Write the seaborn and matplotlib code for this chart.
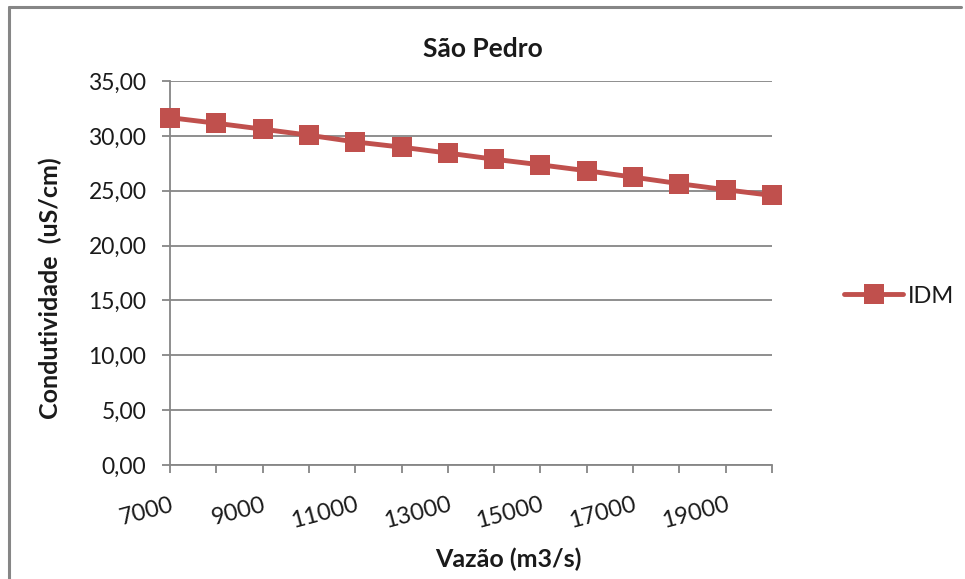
import matplotlib
matplotlib.use("Agg")
import matplotlib.pyplot as plt
from matplotlib.lines import Line2D
import seaborn as sns
import pandas as pd

# Flow (m3/s) and conductivity (uS/cm) for São Pedro, IDM series
vazao = [7000, 8000, 9000, 10000, 11000, 12000, 13000,
         14000, 15000, 16000, 17000, 18000, 19000, 20000]
condutividade = [31.66, 31.15, 30.61, 30.06, 29.45, 28.97, 28.43,
                 27.87, 27.36, 26.82, 26.24, 25.64, 25.09, 24.57]
serie = "IDM"
titulo = "São Pedro"
rotulo_x = "Vazão (m3/s)"
rotulo_y = "Condutividade  (uS/cm)"
y_ticks = [0, 5, 10, 15, 20, 25, 30, 35]

df = pd.DataFrame({"vazao": vazao, "cond": condutividade, "serie": serie})

sns.set_theme(style="white")
plt.rcParams["font.family"] = ["Lato", "DejaVu Sans"]

RED = "#C0504D"
GRAY = "#868686"
TEXT = "#1a1a1a"

W, H = 965, 579
fig = plt.figure(figsize=(W / 100, H / 100), dpi=100)
ax = fig.add_axes([170 / W, 1 - 465 / H, (772 - 170) / W, (465 - 81) / H])

sns.lineplot(data=df, x="vazao", y="cond", hue="serie", palette=[RED],
             marker="s", markersize=14, markeredgewidth=0, linewidth=3.5,
             clip_on=False, ax=ax, legend=True, zorder=5)

ax.set_xlim(vazao[0], vazao[-1])
ax.set_ylim(y_ticks[0], y_ticks[-1])
ax.set_yticks(y_ticks)
ax.set_yticklabels([f"{v:.2f}".replace(".", ",") for v in y_ticks],
                   fontsize=16.5, color=TEXT)
ax.set_xticks(vazao)
ax.set_xticklabels([str(v) if i % 2 == 0 else "" for i, v in enumerate(vazao)],
                   fontsize=17, rotation=15, ha="right", rotation_mode="anchor",
                   color=TEXT)

ax.grid(axis="y", color=GRAY, linewidth=1.3)
ax.set_axisbelow(True)
for side in ["top", "right"]:
    ax.spines[side].set_visible(False)
for side in ["left", "bottom"]:
    ax.spines[side].set_color(GRAY)
    ax.spines[side].set_linewidth(1.3)
ax.tick_params(axis="both", which="both", direction="out", color=GRAY,
               length=6, width=1.3, left=True, bottom=True)
ax.tick_params(axis="x", pad=15)
ax.tick_params(axis="y", pad=11)

fig.text(483 / W, 1 - 57 / H, titulo, fontsize=19, fontweight="bold",
         ha="center", va="baseline", color=TEXT)
ax.set_xlabel(rotulo_x, fontsize=18, fontweight="bold", color=TEXT)
ax.xaxis.set_label_coords((508 - 170) / 602, (465 - 548) / 384)
ax.set_ylabel(rotulo_y, fontsize=18, fontweight="bold", color=TEXT)
ax.yaxis.set_label_coords((62 - 170) / 602, (465 - 288) / 384)

leg = ax.legend(loc="center left", bbox_to_anchor=(1.085, 0.44), frameon=False,
                fontsize=17, handlelength=2.5, handletextpad=0.2)
for h in leg.legend_handles:
    h.set_markersize(14)
for t in leg.get_texts():
    t.set_color(TEXT)

# chart frame
fig.add_artist(Line2D([9 / W, 9 / W], [0, 1 - 7 / H], transform=fig.transFigure,
                      color=GRAY, linewidth=2.2))
fig.add_artist(Line2D([9 / W, 961 / W], [1 - 7 / H, 1 - 7 / H], transform=fig.transFigure,
                      color=GRAY, linewidth=2.2))

fig.savefig("out.png", dpi=100)
